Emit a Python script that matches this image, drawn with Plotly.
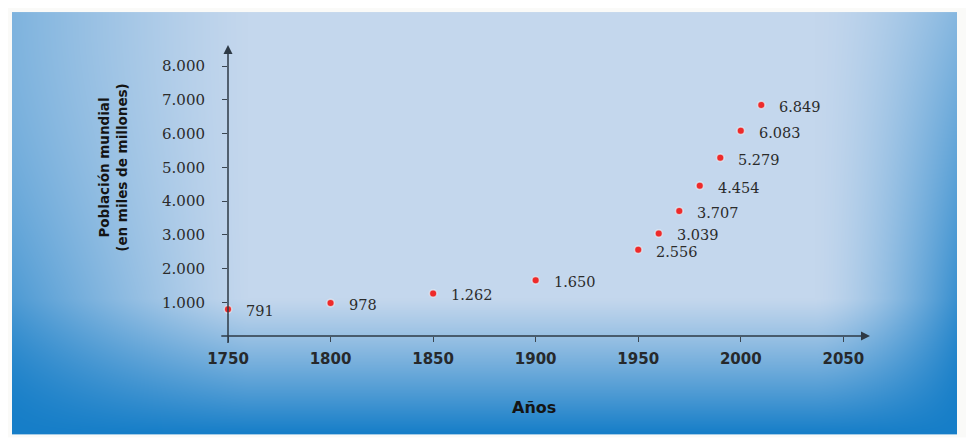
import base64, struct, zlib
import numpy as np
import plotly.graph_objects as go

# ---------------- data ----------------
years = [1750, 1800, 1850, 1900, 1950, 1960, 1970, 1980, 1990, 2000, 2010]
population = [791, 978, 1262, 1650, 2556, 3039, 3707, 4454, 5279, 6083, 6849]
point_labels = ["791", "978", "1.262", "1.650", "2.556", "3.039", "3.707",
                "4.454", "5.279", "6.083", "6.849"]
x_ticks = [1750, 1800, 1850, 1900, 1950, 2000, 2050]
y_ticks = [1000, 2000, 3000, 4000, 5000, 6000, 7000, 8000]
y_tick_labels = ["1.000", "2.000", "3.000", "4.000", "5.000", "6.000", "7.000", "8.000"]

# page body has an 8px margin; the figure is laid out in page pixels minus this offset
OFF = 8
PW, PH = 974, 438          # page size
W, H = PW - OFF, PH - OFF  # figure size
# plot area edges in page pixels
PX_L, PX_R, PX_T, PX_B = 228, 870, 45, 336.5
ML, MR, MT, MB = PX_L - OFF, PW - PX_R, PX_T - OFF, PH - PX_B
XR = [1750, 2063]
YR = [0, 8624]

# ---------------- background gradient image ----------------
def make_bg():
    X, Y = np.meshgrid(np.arange(W) + OFF, np.arange(H) + OFF)
    x0, x1, y0, y1 = 12, 956, 12, 434
    u = np.clip((X - x0) / (x1 - x0), 0, 1)
    v = np.clip((Y - y0) / (y1 - y0), 0, 1)
    b = np.clip((v - 0.68) / 0.32, 0, 1) ** 1.1
    l = np.clip(1 - u / 0.25, 0, 1) ** 1.2 * (0.4 + 0.6 * v ** 2)
    r = np.clip((u - 0.85) / 0.15, 0, 1) ** 1.5 * (0.35 + 0.65 * v)
    t = 1 - (1 - b) * (1 - l) * (1 - r)
    L = np.array([196, 215, 237])
    D = np.array([22, 126, 200])
    img = L[None, None, :] * (1 - t[..., None]) + D[None, None, :] * t[..., None]
    inside = (X >= x0) & (X <= x1) & (Y >= y0) & (Y <= y1)
    img[~inside] = [250, 250, 248]
    img = img.astype(np.uint8)
    raw = b"".join(b"\x00" + img[i].tobytes() for i in range(H))
    def chunk(tag, data):
        c = struct.pack(">I", len(data)) + tag + data
        return c + struct.pack(">I", zlib.crc32(tag + data) & 0xffffffff)
    png = b"\x89PNG\r\n\x1a\n" + chunk(b"IHDR", struct.pack(">IIBBBBB", W, H, 8, 2, 0, 0, 0)) \
        + chunk(b"IDAT", zlib.compress(raw, 9)) + chunk(b"IEND", b"")
    return "data:image/png;base64," + base64.b64encode(png).decode()

pw = W - ML - MR
ph = H - MT - MB

fig = go.Figure()
fig.add_trace(go.Scatter(
    x=years, y=population, mode="markers",
    marker=dict(color="#ee2a2a", size=7.5, symbol="circle",
                line=dict(color="rgba(225,245,255,0.7)", width=1.5)),
    cliponaxis=False, hoverinfo="skip", showlegend=False))

annotations = []
for xv, yv, lab in zip(years, population, point_labels):
    annotations.append(dict(x=xv, y=yv, xref="x", yref="y", text=lab, showarrow=False,
                            xanchor="left", yanchor="middle", xshift=16, yshift=-2,
                            font=dict(family="DejaVu Serif", size=14.5, color="#2b2b2b")))
# axis arrows
annotations.append(dict(x=2063, y=0, ax=1746, ay=0, xref="x", yref="y", axref="x", ayref="y",
                        text="", showarrow=True, arrowhead=2, arrowsize=1.2, arrowwidth=1.5,
                        arrowcolor="#2e3a46"))
annotations.append(dict(x=1750, y=8624, ax=1750, ay=-250, xref="x", yref="y", axref="x", ayref="y",
                        text="", showarrow=True, arrowhead=2, arrowsize=1.2, arrowwidth=1.5,
                        arrowcolor="#2e3a46"))
# titles (positions given in page pixels)
annotations.append(dict(x=(113 - PX_L) / pw, y=(PX_B - 168) / ph, xref="paper", yref="paper",
                        text="Población mundial<br>(en miles de millones)", showarrow=False,
                        textangle=-90, xanchor="center", yanchor="middle",
                        font=dict(family="DejaVu Sans", size=13.5, color="#141414", weight="bold")))
annotations.append(dict(x=(534 - PX_L) / pw, y=(PX_B - 408) / ph, xref="paper", yref="paper",
                        text="Años", showarrow=False, xanchor="center", yanchor="middle",
                        font=dict(family="DejaVu Sans", size=16, color="#141414", weight="bold")))

fig.update_layout(
    width=W, height=H,
    margin=dict(l=ML, r=MR, t=MT, b=MB, pad=0),
    paper_bgcolor="white", plot_bgcolor="rgba(0,0,0,0)",
    images=[dict(source=make_bg(), xref="paper", yref="paper",
                 x=-ML / pw, y=1 + MT / ph, sizex=W / pw, sizey=H / ph,
                 xanchor="left", yanchor="top", sizing="stretch", layer="below")],
    annotations=annotations,
    xaxis=dict(range=XR, tickvals=x_ticks, ticktext=[str(v) for v in x_ticks],
               showgrid=False, zeroline=False, showline=False,
               ticks="outside", ticklen=5, tickwidth=1, tickcolor="#3a4550",
               ticklabelstandoff=4,
               tickfont=dict(family="DejaVu Sans", size=15, color="#26292c", weight="bold")),
    yaxis=dict(range=YR, tickvals=y_ticks, ticktext=y_tick_labels,
               showgrid=False, zeroline=False, showline=False,
               ticks="outside", ticklen=5, tickwidth=1, tickcolor="#3a4550",
               ticklabelstandoff=14,
               tickfont=dict(family="DejaVu Serif", size=15, color="#2b2b2b")),
)

fig.write_html("out.html")
